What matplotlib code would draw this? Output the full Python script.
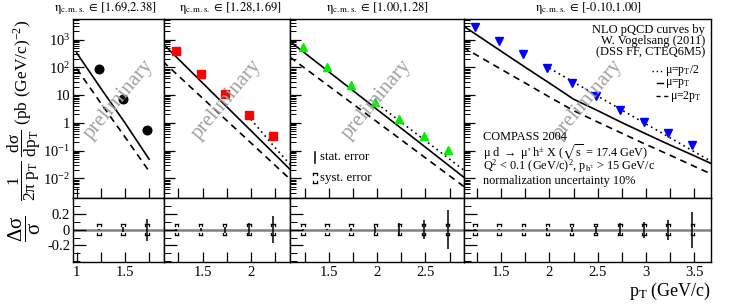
import numpy as np
import matplotlib
matplotlib.use('Agg')
import matplotlib.pyplot as plt
from matplotlib.lines import Line2D
from matplotlib.ticker import LogLocator, MultipleLocator, FixedLocator, FixedFormatter, NullFormatter

plt.rcParams['font.family'] = ['Liberation Serif', 'DejaVu Serif']
plt.rcParams['mathtext.fontset'] = 'custom'
plt.rcParams['mathtext.rm'] = 'Liberation Serif'
plt.rcParams['mathtext.it'] = 'Liberation Serif:italic'
plt.rcParams['mathtext.default'] = 'regular'
plt.rcParams['mathtext.fallback'] = 'stix'

# ---------------- data ----------------
eta_bins = ['[1.69,2.38]', '[1.28,1.69]', '[1.00,1.28]', '[-0.10,1.00]']
pt_points = [1.23, 1.48, 1.73, 1.98, 2.23, 2.48, 2.73, 2.98, 3.23, 3.48]

xsec_eta1 = [89, 7.0, 0.53]
xsec_eta2 = [371, 58.7, 10.6, 1.99, 0.323]
xsec_eta3 = [530, 101, 23.7, 5.6, 1.32, 0.34, 0.107]
xsec_eta4 = [2760, 920, 307, 93.3, 27, 9.25, 3.0, 1.08, 0.435, 0.157]

stat_eta1 = [0.01, 0.03, 0.14]
stat_eta2 = [0.01, 0.02, 0.04, 0.08, 0.17]
stat_eta3 = [0.01, 0.01, 0.02, 0.04, 0.08, 0.12, 0.25]
stat_eta4 = [0.005, 0.01, 0.01, 0.02, 0.03, 0.05, 0.085, 0.10, 0.13, 0.23]

syst_eta1 = [0.07, 0.07, 0.07]
syst_eta2 = [0.07, 0.07, 0.07, 0.07, 0.07]
syst_eta3 = [0.07, 0.07, 0.07, 0.07, 0.07, 0.07, 0.07]
syst_eta4 = [0.07, 0.07, 0.07, 0.07, 0.07, 0.07, 0.07, 0.07, 0.07, 0.07]

pt_curve = [1.0, 1.25, 1.5, 1.75, 2.0, 2.25, 2.5, 2.75, 3.0, 3.25, 3.5, 3.75]

nlo_mu_eta1 = [330, 17.5, 1.0, 0.049]
nlo_2mu_eta1 = [90, 5.1, 0.31, 0.018]
nlo_halfmu_eta1 = []

nlo_mu_eta2 = [1430, 198, 27.4, 3.79, 0.525, 0.0726, 0.010]
nlo_2mu_eta2 = [315, 49.3, 7.73, 1.21, 0.19, 0.0297, 0.00466]
nlo_halfmu_eta2 = [1.35, 0.129, 0.0135]

nlo_mu_eta3 = [1550, 327, 68.5, 14.4, 3.0, 0.63, 0.132, 0.0275, 0.00575]
nlo_2mu_eta3 = [413, 93.3, 21.0, 4.74, 1.07, 0.242, 0.0545, 0.0123, 0.00275]
nlo_halfmu_eta3 = [4.83, 1.045, 0.226, 0.049, 0.0105]

nlo_mu_eta4 = [5500, 1450, 380, 100, 27, 7.1, 2.75, 1.02, 0.40, 0.158, 0.065, 0.026]
nlo_2mu_eta4 = [850, 270, 85, 27, 8.5, 2.75, 1.07, 0.42, 0.166, 0.068, 0.027, 0.011]
nlo_halfmu_eta4 = [93, 29.5, 9.2, 2.9, 0.91, 0.29, 0.091, 0.029]

# ---------------- layout ----------------
W, H = 735, 305
fig = plt.figure(figsize=(W / 100, H / 100), dpi=100)

xranges = [(0.962, 1.903), (1.099, 2.403), (1.094, 2.903), (1.119, 3.671)]
left_px, right_px = 73.0, 710.7
top_px, mid_px, bot_px = 19.0, 197.7, 261.7
ppu = (right_px - left_px) / sum(b - a for a, b in xranges)

panels = [
    (xsec_eta1, stat_eta1, syst_eta1, nlo_mu_eta1, nlo_2mu_eta1, nlo_halfmu_eta1, 'o', 'black'),
    (xsec_eta2, stat_eta2, syst_eta2, nlo_mu_eta2, nlo_2mu_eta2, nlo_halfmu_eta2, 's', '#ff0000'),
    (xsec_eta3, stat_eta3, syst_eta3, nlo_mu_eta3, nlo_2mu_eta3, nlo_halfmu_eta3, '^', '#00ee00'),
    (xsec_eta4, stat_eta4, syst_eta4, nlo_mu_eta4, nlo_2mu_eta4, nlo_halfmu_eta4, 'v', '#0000ff'),
]

title_x_px = [105, 230, 377, 588]

x0 = left_px
for i, (xs, st, sy, cmu, c2mu, chalf, mk, col) in enumerate(panels):
    a, b = xranges[i]
    wpx = (b - a) * ppu
    axu = fig.add_axes([x0 / W, 1 - mid_px / H, wpx / W, (mid_px - top_px) / H])
    axl = fig.add_axes([x0 / W, 1 - bot_px / H, wpx / W, (bot_px - mid_px) / H])
    x0 += wpx

    n = len(xs)
    ptp = pt_points[:n]
    # curves
    axu.plot(pt_curve[:len(cmu)], cmu, color='black', lw=1.2, ls='-')
    axu.plot(pt_curve[:len(c2mu)], c2mu, color='black', lw=1.2, ls=(0, (4, 3)))
    if len(chalf):
        axu.plot(pt_curve[4:4 + len(chalf)], chalf, color='black', lw=1.2, ls=(0, (1, 2.2)))
    axu.plot(ptp, xs, ls='none', marker=mk, color=col, ms=6.2, mec=col)

    axu.set_yscale('log')
    axu.set_ylim(2.0e-3, 5.5e3)
    axu.set_xlim(a, b)
    axl.set_xlim(a, b)
    axl.set_ylim(-0.41, 0.41)

    # preliminary watermark
    axu.text(0.5, 0.55, 'preliminary', transform=axu.transAxes, rotation=50,
             ha='center', va='center', fontsize=15, color='#a0a0a0')

    # lower panel: zero line, stat and syst
    axl.axhline(0, color='#808080', lw=1.8, zorder=1)
    axl.errorbar(ptp, [0] * n, yerr=st, fmt='none', ecolor='black', elinewidth=1.1,
                 capsize=0, zorder=3)
    wx = 0.018
    for xv, s in zip(ptp, sy):
        h = 0.025
        for sgn in (1, -1):
            axl.plot([xv - wx, xv + wx], [sgn * s, sgn * s], color='black', lw=0.9, zorder=2)
            axl.plot([xv - wx, xv - wx], [sgn * s, sgn * (s - h)], color='black', lw=0.9, zorder=2)
            axl.plot([xv + wx, xv + wx], [sgn * s, sgn * (s - h)], color='black', lw=0.9, zorder=2)

    # ticks
    for ax in (axu, axl):
        ax.xaxis.set_major_locator(MultipleLocator(0.25))
        ax.tick_params(axis='both', which='both', direction='in', top=False, right=False,
                       labelsize=10.5)
        ax.tick_params(axis='x', which='major', length=7, width=0.9)
        for sp in ax.spines.values():
            sp.set_linewidth(1.0)
    axu.tick_params(axis='x', labelbottom=False)
    axu.yaxis.set_major_locator(FixedLocator([1e-2, 1e-1, 1, 10, 100, 1e3]))
    axu.yaxis.set_minor_locator(LogLocator(base=10, subs=np.arange(2, 10), numticks=20))
    axu.tick_params(axis='y', which='major', length=8, width=0.9, pad=2)
    axu.tick_params(axis='y', which='minor', length=4, width=0.7)
    axl.yaxis.set_major_locator(FixedLocator([-0.2, 0.0, 0.2]))
    axl.yaxis.set_minor_locator(FixedLocator([-0.4, -0.3, -0.1, 0.1, 0.3, 0.4]))
    axl.tick_params(axis='y', which='major', length=9, width=0.9, pad=2)
    axl.tick_params(axis='y', which='minor', length=5, width=0.7)

    xt = np.arange(0.25, 4.01, 0.25)
    axl.xaxis.set_major_locator(FixedLocator(xt))
    axl.xaxis.set_major_formatter(FixedFormatter(
        [('%g' % v) if abs(v * 2 - round(v * 2)) < 1e-6 else '' for v in xt]))
    axl.tick_params(axis='x', pad=3)

    if i == 0:
        axu.yaxis.set_major_formatter(FixedFormatter(
            [r'$10^{-2}$', r'$10^{-1}$', '1', '10', r'$10^{2}$', r'$10^{3}$']))
        axl.yaxis.set_major_formatter(FixedFormatter(['-0.2', '0', '0.2']))
    else:
        axu.tick_params(axis='y', which='both', labelleft=False)
        axl.tick_params(axis='y', which='both', labelleft=False)
    axu.yaxis.set_minor_formatter(NullFormatter())
    axl.yaxis.set_minor_formatter(NullFormatter())

    fig.text(title_x_px[i] / W, 1 - 8 / H, r'$\eta_{c.m.s.}$' + ' \u2208 ' + eta_bins[i],
             ha='center', va='center', fontsize=9, family=['STIXGeneral'])

# ---------------- axis labels ----------------
fig.text(24 / W, 1 - 110 / H,
         r'$\dfrac{1}{2\pi\ p_{T}}\ \dfrac{d\sigma}{dp_{T}}$ (pb (GeV/c)$^{-2}$)',
         rotation=90, ha='center', va='center', fontsize=12.5)
fig.text(25 / W, 1 - 229 / H, r'$\dfrac{\Delta\sigma}{\sigma}$', rotation=90,
         ha='center', va='center', fontsize=15)
fig.text(711 / W, 1 - 291 / H, r'p$_{T}$ (GeV/c)', ha='right', va='center', fontsize=13)

# ---------------- legend / annotations panel 4 ----------------
def fxy(px, py):
    return px / W, 1 - py / H

for txt, py in [('NLO pQCD curves by', 30), ('W. Vogelsang (2011)', 41), ('(DSS FF, CTEQ6M5)', 52)]:
    fig.text(*fxy(705, py), txt, ha='right', va='center', fontsize=9)

leg = [((0, (1, 2)), r'$\mu$=p$_{T}$/2', 71, 652, 663),
       ('-', r'$\mu$=p$_{T}$', 83.5, 657, 663),
       ((0, (3, 2.5)), r'$\mu$=2p$_{T}$', 96, 656, 668)]
for ls, lab, py, xa, xb in leg:
    fig.add_artist(Line2D([xa / W, xb / W], [1 - py / H, 1 - py / H], color='black', lw=1.0, ls=ls))
    fig.text(*fxy(xb + 2, py), lab, ha='left', va='center', fontsize=8.5)

ann = [('COMPASS 2004', 137.5),
       (r'$\mu$ d $\rightarrow$ $\mu$' + "' h$^{\\pm}$ X ($\\sqrt{s}$ = 17.4 GeV)", 152),
       (r'Q$^{2}$ < 0.1 (GeV/c)$^{2}$, p$_{h^{\pm}}$ > 15 GeV/c', 166),
       ('normalization uncertainty 10%', 181)]
for txt, py in ann:
    fig.text(*fxy(483, py), txt, ha='left', va='center', fontsize=8.8)

# stat / syst key in panel 3
fig.add_artist(Line2D([315 / W, 315 / W], [1 - 152 / H, 1 - 163 / H], color='black', lw=1.1))
fig.text(*fxy(320, 157.5), 'stat. error', ha='left', va='center', fontsize=9.3)
for sgn in (1, -1):
    yy = 178.3 - sgn * 5
    fig.add_artist(Line2D([313 / W, 317 / W], [1 - yy / H, 1 - yy / H], color='black', lw=0.9))
    fig.add_artist(Line2D([313 / W, 313 / W], [1 - yy / H, 1 - (yy + sgn * 2) / H], color='black', lw=0.9))
    fig.add_artist(Line2D([317 / W, 317 / W], [1 - yy / H, 1 - (yy + sgn * 2) / H], color='black', lw=0.9))
fig.text(*fxy(320, 178.3), 'syst. error', ha='left', va='center', fontsize=9.3)

fig.savefig('out.png', dpi=100)
